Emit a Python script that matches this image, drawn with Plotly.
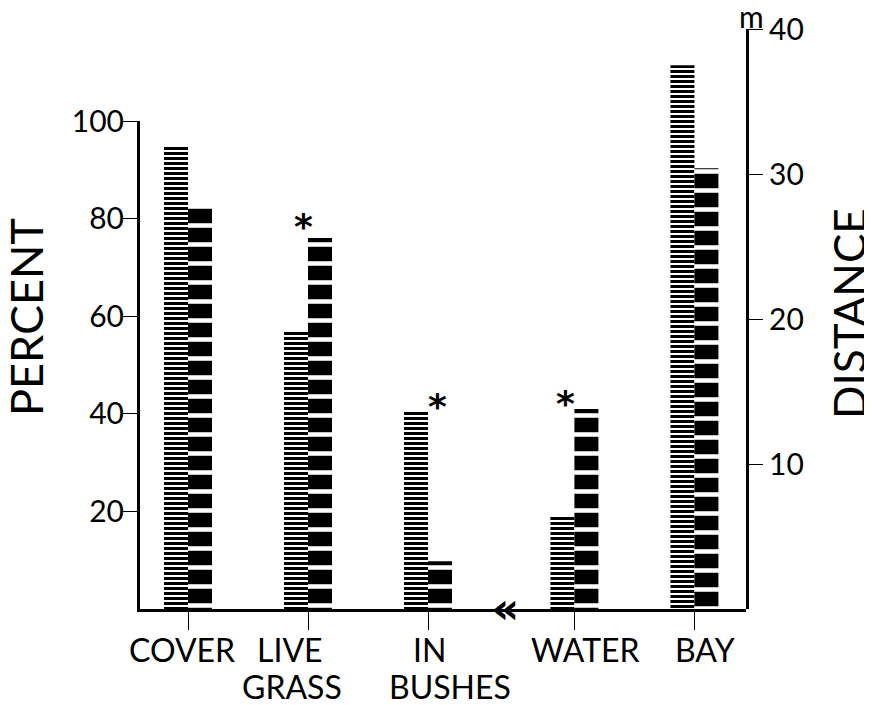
import plotly.graph_objects as go

# ---------------- data ----------------
categories = ["COVER", "LIVE<br>GRASS", "IN<br>BUSHES", "WATER", "BAY"]
pct_categories = categories[:4]          # plotted on PERCENT axis
dist_categories = categories[4:]         # plotted on DISTANCE axis
hatched_pct = [94.7, 56.8, 40.4, 18.9]
solid_pct = [82.2, 76.0, 9.8, 41.0]
hatched_dist_m = [37.5]
solid_dist_m = [30.4]
pct_ticks = [20, 40, 60, 80, 100]
dist_ticks = [10, 20, 30, 40]
# significance asterisks: (category, bar)
asterisks = [("LIVE<br>GRASS", "solid"), ("IN<br>BUSHES", "hatched"), ("WATER", "solid")]

# ---------------- layout helpers ----------------
BREAK = 0.22
pos = {c: i + (BREAK if i >= 3 else 0) for i, c in enumerate(categories)}
BW = 0.2
FONT = "Lato"
OFF = 8                     # page body margin
W, H = 872 - OFF, 705 - OFF
ML, MR, MT, MB = 140 - OFF, 126, 29 - OFF, 96
plot_h = H - MT - MB
BOTTOM_PX = 609             # baseline in window pixels
pct_domain_top = 488 / plot_h


def paper_y(py):
    return (BOTTOM_PX - py) / plot_h


hatch_marker = dict(color="white", line=dict(width=0),
                    pattern=dict(shape="-", fgcolor="black", bgcolor="white",
                                 size=5, solidity=0.6, fillmode="replace"))
solid_marker = dict(color="black", line=dict(width=0),
                    pattern=dict(shape="-", fgcolor="white", bgcolor="black",
                                 size=19, solidity=0.24, fillmode="replace"))

fig = go.Figure()
fig.add_trace(go.Bar(x=[pos[c] for c in pct_categories], y=hatched_pct, width=BW, offset=-BW,
                     marker=hatch_marker, xaxis="x", yaxis="y", showlegend=False))
fig.add_trace(go.Bar(x=[pos[c] for c in pct_categories], y=solid_pct, width=BW, offset=0,
                     marker=solid_marker, xaxis="x", yaxis="y", showlegend=False))
fig.add_trace(go.Bar(x=[pos[c] for c in dist_categories], y=hatched_dist_m, width=BW, offset=-BW,
                     marker=hatch_marker, xaxis="x", yaxis="y2", showlegend=False))
fig.add_trace(go.Bar(x=[pos[c] for c in dist_categories], y=solid_dist_m, width=BW, offset=0,
                     marker=solid_marker, xaxis="x", yaxis="y2", showlegend=False))

axis_common = dict(showgrid=False, zeroline=False, showline=True, linewidth=3, linecolor="black",
                   ticks="outside", tickwidth=1.3, tickcolor="black", ticklen=14,
                   tickfont=dict(family=FONT, size=30, color="black"), fixedrange=True,
                   automargin=False)

fig.update_layout(
    width=W, height=H,
    margin=dict(l=ML, r=MR, t=MT, b=MB, autoexpand=False),
    paper_bgcolor="white", plot_bgcolor="rgba(0,0,0,0)",
    barmode="overlay",
    xaxis=dict(range=[-0.4, 4.65], anchor="y", showgrid=False, zeroline=False,
               showline=True, linewidth=3, linecolor="black",
               ticks="outside", ticklen=18, tickwidth=1.3, tickcolor="black",
               tickvals=[pos[c] for c in categories], showticklabels=False, fixedrange=True,
               automargin=False),
    yaxis=dict(domain=[0, pct_domain_top], range=[0, 100], tickvals=pct_ticks,
               anchor="x", side="left", ticklabelstandoff=-7, **axis_common),
    yaxis2=dict(domain=[0, 1], range=[0, 40], tickvals=dist_ticks,
                anchor="x", side="right", **axis_common),
)

# category labels, one annotation per line (hand-placed offsets as in the original)
label_shift = {"COVER": [-6], "LIVE<br>GRASS": [-18, -16], "IN<br>BUSHES": [1, 22],
               "WATER": [11], "BAY": [11]}
LINE_STEP = 37
for c in categories:
    for k, line in enumerate(c.split("<br>")):
        fig.add_annotation(x=pos[c], y=0, xref="x", yref="paper", text=line, showarrow=False,
                           xanchor="center", yanchor="top", yshift=-19 - k * LINE_STEP,
                           xshift=label_shift[c][k],
                           font=dict(family=FONT, size=32, color="black"))

# asterisks
vals = {"hatched": dict(zip(pct_categories, hatched_pct)), "solid": dict(zip(pct_categories, solid_pct))}
ast_shift = {"LIVE<br>GRASS": (-5, -11), "IN<br>BUSHES": (9, -17), "WATER": (-9, -17)}
for c, bar in asterisks:
    top = max(vals["hatched"][c], vals["solid"][c])
    dx, dy = ast_shift[c]
    fig.add_annotation(x=pos[c], y=top, xref="x", yref="y", text="<b>*</b>", showarrow=False,
                       xanchor="center", yanchor="bottom", xshift=dx, yshift=dy,
                       font=dict(family="DejaVu Sans", size=36, color="black"))

# axis break mark
fig.add_annotation(x=(pos["IN<br>BUSHES"] + pos["WATER"]) / 2, y=0, xref="x", yref="y", text="<b>«</b>",
                   showarrow=False, xanchor="center", yanchor="middle", yshift=1, xshift=4,
                   font=dict(family="DejaVu Sans", size=42, color="black"))

# axis titles
fig.add_annotation(x=0, y=paper_y(317), xref="paper", yref="paper", text="PERCENT",
                   textangle=-90, showarrow=False, xanchor="center", yanchor="middle", xshift=-114,
                   font=dict(family=FONT, size=45, color="black"))
fig.add_annotation(x=1, y=paper_y(314), xref="paper", yref="paper", text="DISTANCE",
                   textangle=-90, showarrow=False, xanchor="center", yanchor="middle", xshift=103,
                   font=dict(family=FONT, size=44, color="black"))
fig.add_annotation(x=1, y=paper_y(20), xref="paper", yref="paper", text="m",
                   showarrow=False, xanchor="center", yanchor="middle", xshift=5, yshift=4,
                   font=dict(family=FONT, size=30, color="black"))

fig.write_html("out.html")
